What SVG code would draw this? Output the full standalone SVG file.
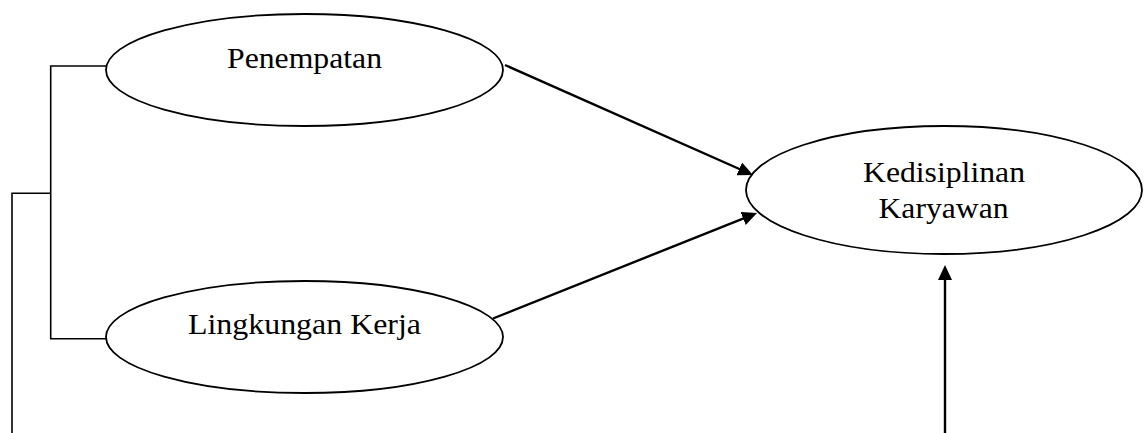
<svg xmlns="http://www.w3.org/2000/svg" width="1144" height="433" viewBox="0 0 1144 433">
  <style>
    .node ellipse { fill: #ffffff; stroke: #000000; stroke-width: 1.8; }
    .node text { font-family: "Liberation Serif", "Times New Roman", serif; font-size: 29px; fill: #000000; text-anchor: middle; }
    .conn { stroke: #000000; fill: none; }
    .arrow { stroke-width: 2.4; }
    .bracket { stroke-width: 1.6; }
  </style>
  <defs>
    <marker id="ah" markerUnits="userSpaceOnUse" markerWidth="15" markerHeight="14" refX="10" refY="7" orient="auto">
      <path d="M0,0 L15,7 L0,14 Z" fill="#000000"/>
    </marker>
  </defs>
  <rect width="1144" height="433" fill="#ffffff"/>
  <g id="connectors">
    <polyline class="conn bracket" points="106,66 50.7,66 50.7,338.7 106,338.7"/>
    <polyline class="conn bracket" points="50.7,193.3 12,193.3 12,433"/>
    <line class="conn arrow" x1="505" y1="65" x2="748.4" y2="173" marker-end="url(#ah)"/>
    <line class="conn arrow" x1="493" y1="318.5" x2="752.4" y2="214.8" marker-end="url(#ah)"/>
    <line class="conn arrow" x1="945" y1="433" x2="945" y2="270" marker-end="url(#ah)"/>
  </g>
  <g id="node-penempatan" class="node">
    <ellipse cx="304.5" cy="70" rx="198.5" ry="56"/>
    <text x="304.5" y="68" textLength="155" lengthAdjust="spacingAndGlyphs">Penempatan</text>
  </g>
  <g id="node-lingkungan" class="node">
    <ellipse cx="304.5" cy="337" rx="198.5" ry="56"/>
    <text x="304.5" y="334" textLength="233" lengthAdjust="spacingAndGlyphs">Lingkungan Kerja</text>
  </g>
  <g id="node-kedisiplinan" class="node">
    <ellipse cx="944" cy="190" rx="198" ry="64"/>
    <text x="944" y="181.7" textLength="162" lengthAdjust="spacingAndGlyphs">Kedisiplinan</text>
    <text x="943.5" y="218.3" textLength="130" lengthAdjust="spacingAndGlyphs">Karyawan</text>
  </g>
</svg>
